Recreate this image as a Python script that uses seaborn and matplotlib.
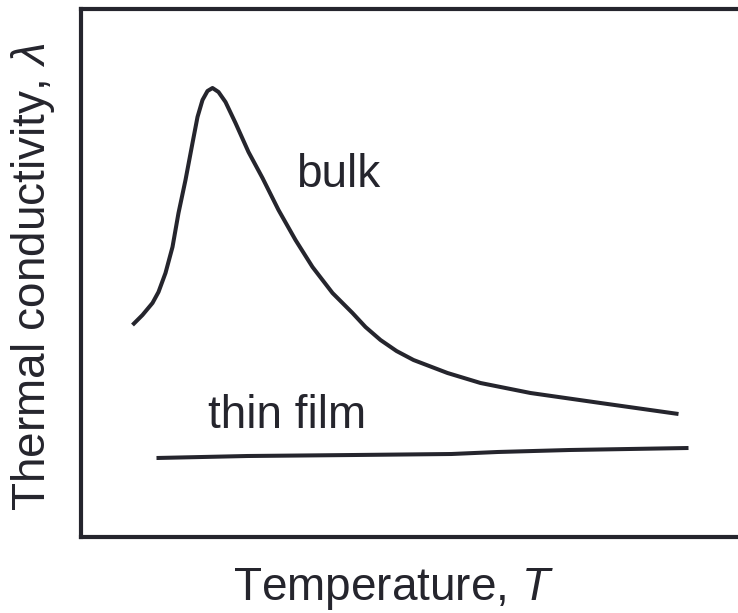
import matplotlib
matplotlib.use("Agg")
import matplotlib.pyplot as plt
import seaborn as sns
import pandas as pd

# Data (arbitrary units)
bulk_T = [52, 62, 72, 78, 85, 92, 98, 105, 112, 117, 122, 127, 132, 138, 145, 155, 168, 182,
          198, 215, 232, 252, 272, 285, 300, 316, 333, 367, 400, 450, 520, 598]
bulk_k = [212, 222, 234, 245, 264, 290, 324, 357, 394, 420, 437, 446, 449, 445, 435, 414, 385, 359,
          327, 297, 270, 244, 224, 210, 197, 186, 177, 164, 154, 144, 134, 123]
film_T = [76, 167, 274, 371, 417, 489, 608]
film_k = [79, 81, 82, 83, 85, 87, 89]

labels = {"bulk": "bulk", "film": "thin film"}
xlabel = r"Temperature, $T$"
ylabel = r"Thermal conductivity, $\lambda$"

sns.set_style("white")
plt.rcParams["font.family"] = ["Liberation Sans", "DejaVu Sans"]
plt.rcParams["mathtext.fontset"] = "custom"
plt.rcParams["mathtext.rm"] = "Liberation Sans"
plt.rcParams["mathtext.it"] = "Liberation Sans:italic"

INK = "#25252d"
W, H = 738, 613
fig = plt.figure(figsize=(W / 100, H / 100), dpi=100)
ax = fig.add_axes([80.5 / W, (H - 537) / H, (770 - 80.5) / W, (537 - 8.5) / H])
ax.patch.set_edgecolor("none")

df_bulk = pd.DataFrame({"T": bulk_T, "k": bulk_k})
df_film = pd.DataFrame({"T": film_T, "k": film_k})
sns.lineplot(data=df_bulk, x="T", y="k", ax=ax, color=INK, lw=2.9, sort=False,
             solid_capstyle="butt", solid_joinstyle="round")
sns.lineplot(data=df_film, x="T", y="k", ax=ax, color=INK, lw=2.9, sort=False,
             solid_capstyle="butt", solid_joinstyle="round")

ax.set_xlim(0, 770 - 80.5)
ax.set_ylim(0, 537 - 8.5)
ax.set_xticks([])
ax.set_yticks([])
ax.set_xlabel("")
ax.set_ylabel("")
for side in ["left", "bottom", "top"]:
    ax.spines[side].set_color(INK)
    ax.spines[side].set_linewidth(3.0)
ax.spines["right"].set_visible(False)

ax.text(216, 350, labels["bulk"], fontsize=33, color=INK, ha="left", va="baseline")
ax.text(127, 109, labels["film"], fontsize=33, color=INK, ha="left", va="baseline")

fig.text(393 / W, (H - 600) / H, xlabel, fontsize=33, color=INK, ha="center", va="baseline")
fig.text(33 / W, (H - 276.5) / H, ylabel, fontsize=33, color=INK, ha="center", va="center",
         rotation=90)

fig.savefig("out.png", dpi=100)
